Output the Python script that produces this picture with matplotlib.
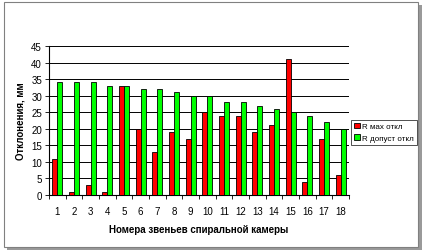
import numpy as np
import matplotlib.pyplot as plt
from matplotlib.patches import Rectangle

plt.rcParams['font.family'] = ['Liberation Sans', 'DejaVu Sans']

# данные
zveno = list(range(1, 19))
r_max = [11, 1, 3, 1, 33, 20, 13, 19, 17, 25, 24, 24, 19, 21, 41, 4, 17, 6]
r_dop = [34, 34, 34, 33, 33, 32, 32, 31, 30, 30, 28, 28, 27, 26, 25, 24, 22, 20]

fig = plt.figure(figsize=(4.29, 2.53), dpi=100)

# рамка с тенью
fig.patches.append(Rectangle((7 / 429, 1 - 251 / 253), 415 / 429, 245 / 253,
                             transform=fig.transFigure, facecolor='#9a9a9a',
                             edgecolor='none', zorder=0))
fig.patches.append(Rectangle((4 / 429, 1 - 248 / 253), 414 / 429, 245 / 253,
                             transform=fig.transFigure, facecolor='white',
                             edgecolor='#808080', linewidth=0.8, zorder=1))

ax = fig.add_axes([49 / 429, 1 - 196 / 253, 300 / 429, 149 / 253])
ax.set_zorder(2)
ax.patch.set_alpha(0)

x = np.arange(len(zveno))
w = 0.3
ax.bar(x - w / 2, r_max, w, color='#ff0000', edgecolor='black', linewidth=0.6,
       label='R мах откл', zorder=3)
ax.bar(x + w / 2, r_dop, w, color='#00ff00', edgecolor='black', linewidth=0.6,
       label='R допуст откл', zorder=3)

ax.set_xlim(-0.5, len(zveno) - 0.5)
ax.set_ylim(0, 45)
ax.set_yticks(range(0, 46, 5))
ax.yaxis.grid(True, color='black', linewidth=0.7)
ax.set_axisbelow(True)

ax.set_xticks(x)
ax.set_xticklabels([str(z) for z in zveno], fontsize=7)
ax.set_xticks(np.arange(-0.5, len(zveno), 1), minor=True)
ax.tick_params(axis='x', which='major', length=0, pad=8)
ax.tick_params(axis='x', which='minor', length=3, width=0.6)
ax.tick_params(axis='y', labelsize=7, length=3, width=0.6, pad=2)

for s in ['top', 'right']:
    ax.spines[s].set_visible(False)
ax.spines['left'].set_linewidth(0.8)
ax.spines['bottom'].set_linewidth(0.8)

ax.set_ylabel('Отклонения, мм', fontsize=7, fontweight='bold', labelpad=4)
ax.set_xlabel('Номера звеньев спиральной камеры', fontsize=7,
              fontweight='bold', labelpad=6)

leg = ax.legend(loc='center left', bbox_to_anchor=(1.008, 0.42), fontsize=5.8,
                frameon=True, fancybox=False, edgecolor='black',
                handlelength=0.7, handleheight=0.7, handletextpad=0.3,
                borderpad=0.35, labelspacing=0.5, borderaxespad=0)
leg.get_frame().set_linewidth(0.6)

fig.savefig('out.png', dpi=100)
